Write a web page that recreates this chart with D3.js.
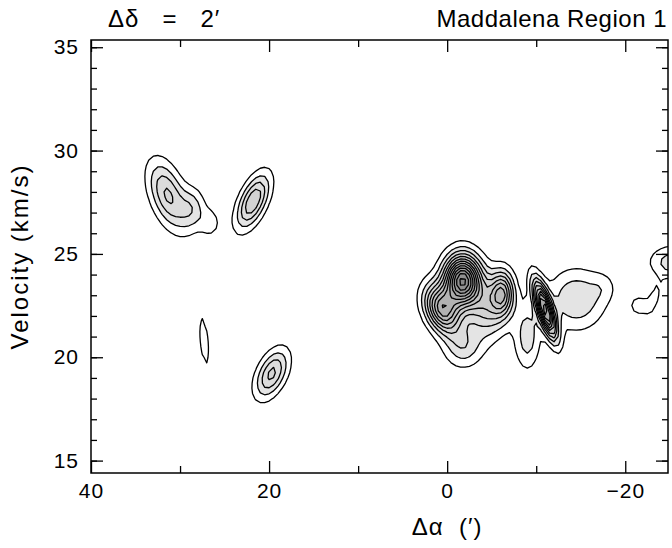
<!DOCTYPE html>
<html>
<head>
<meta charset="utf-8">
<script src="https://cdn.jsdelivr.net/npm/d3@7"></script>
<style>
body { margin: 0; background: #fff; }
text { font-family: "Liberation Sans", Arial, sans-serif; fill: #000; white-space: pre; }
</style>
</head>
<body>
<div id="chart"></div>
<script>
// emission clumps
// offset (arcmin), velocity (km/s), widths, peak (in contour steps), velocity tilt per arcmin
var clumpRA    = [31.4, 28.6, 26.6, 21.8, 19.7, 27.3,  -1.7,  0.6, -6.2, -11.0, -14.5, -17.6, -9.0, -1.8, -4.5, -25.3, -21.6, -23.3];
var clumpVel   = [27.85, 27.2, 26.5, 27.55, 19.2, 20.8, 23.7, 22.3, 23.1, 22.3,  22.8,  23.4,  21.0, 20.5, 22.4,  24.6,  22.5,  22.9];
var clumpWidRA = [1.5,  1.0,  0.8,  1.3,  1.3,  0.6,   1.4,  1.35, 0.9,  0.9,   2.2,   1.0,   1.0,  1.5,  1.5,   1.8,   0.9,   0.6];
var clumpWidV  = [1.0,  0.7,  0.5,  0.75, 0.72, 1.1,   0.85, 0.75, 0.75, 0.65,  1.0,   0.5,   1.1,  0.7,  1.0,   0.55,  0.4,   0.45];
var clumpPeak  = [4.2,  2.3,  1.5,  5.0,  4.3,  1.45,  13,   8,    6,    10,    3.0,   0.9,   2.6,  2.6,  4,     2.6,   1.5,   1.4];
var clumpTilt  = [0.35, 0,    0,   -0.4, -0.3,  1.0,   0,    0.2,  0,    0.8,   0,     0,     0,    0,    0,     0,     0,    -0.6];

var levels = [1, 2, 3, 4, 5, 6, 7, 8, 9, 10, 11, 12, 13, 14, 15];

var xTicks = [40, 20, 0, -20];
var xMinor = [30, 10, -10];
var yTicks = [15, 20, 25, 30, 35];
var yMinor = d3.range(15, 36, 1);

var width = 672, height = 548;
var margin = {top: 40, right: 4, bottom: 75, left: 91};
var innerW = width - margin.left - margin.right,
    innerH = height - margin.top - margin.bottom;

var svg = d3.select("#chart").append("svg")
    .attr("width", width)
    .attr("height", height);

var g = svg.append("g")
    .attr("transform", "translate(" + margin.left + "," + margin.top + ")");

var x = d3.scaleLinear().domain([40, -24.8]).range([0, innerW]);
var y = d3.scaleLinear().domain([14.4, 35.35]).range([innerH, 0]);

// sample the map on a grid
var gx0 = 41, gdx = 0.5, nx = 137;   // 41 .. -27
var gv0 = 13.5, gdv = 0.25, ny = 93;  // 13.5 .. 36.5
var values = new Array(nx * ny);
for (var j = 0; j < ny; j++) {
    var v = gv0 + j * gdv;
    for (var i = 0; i < nx; i++) {
        var a = gx0 - i * gdx;
        var s = 0;
        for (var k = 0; k < clumpRA.length; k++) {
            var u = (a - clumpRA[k]) / clumpWidRA[k];
            var w = (v - clumpVel[k] - clumpTilt[k] * (a - clumpRA[k])) / clumpWidV[k];
            s += clumpPeak[k] * Math.exp(-(u * u + w * w) / 2);
        }
        values[j * nx + i] = s;
    }
}

var contours = d3.contours()
    .size([nx, ny])
    .thresholds(levels)(values);

var proj = d3.geoTransform({
    point: function(px, py) {
        this.stream.point(x(gx0 - (px - 0.5) * gdx), y(gv0 + (py - 0.5) * gdv));
    }
});
var path = d3.geoPath(proj);

var shade = d3.scaleLinear().domain([1, levels.length - 1]).range(["#e4e4e4", "#787878"]);

svg.append("clipPath").attr("id", "clip")
    .append("rect").attr("width", innerW).attr("height", innerH);

g.append("g")
    .attr("clip-path", "url(#clip)")
    .selectAll("path")
    .data(contours)
    .enter()
    .append("path")
    .attr("d", path)
    .attr("fill", function(d, i) { return i == 0 ? "#fff" : shade(i); })
    .attr("stroke", "#000")
    .attr("stroke-width", 1.3)
    .attr("stroke-linejoin", "round");

// frame
g.append("rect")
    .attr("width", innerW)
    .attr("height", innerH)
    .attr("fill", "none")
    .attr("stroke", "#000")
    .attr("stroke-width", 1.5);

// ticks point inward on all four sides
function tidy(sel) {
    sel.select(".domain").remove();
    sel.selectAll("line").attr("stroke", "#000").attr("stroke-width", 1.3);
    sel.selectAll("text")
        .style("font-size", "21px")
        .style("letter-spacing", "1px")
        .style("font-family", "'Liberation Sans', Arial, sans-serif");
}
g.append("g").attr("transform", "translate(0," + innerH + ")")
    .call(d3.axisBottom(x).tickValues(xTicks).tickSize(-12).tickPadding(10).tickFormat(d3.format("d")))
    .call(tidy);
g.append("g").attr("transform", "translate(0," + innerH + ")")
    .call(d3.axisBottom(x).tickValues(xMinor).tickSize(-7).tickFormat(""))
    .call(tidy);
g.append("g")
    .call(d3.axisTop(x).tickValues(xTicks).tickSize(-12).tickFormat(""))
    .call(tidy);
g.append("g")
    .call(d3.axisTop(x).tickValues(xMinor).tickSize(-7).tickFormat(""))
    .call(tidy);
g.append("g")
    .call(d3.axisLeft(y).tickValues(yTicks).tickSize(-12).tickPadding(12))
    .call(tidy);
g.append("g")
    .call(d3.axisLeft(y).tickValues(yMinor).tickSize(-6).tickFormat(""))
    .call(tidy);
g.append("g").attr("transform", "translate(" + innerW + ",0)")
    .call(d3.axisRight(y).tickValues(yTicks).tickSize(-12).tickFormat(""))
    .call(tidy);
g.append("g").attr("transform", "translate(" + innerW + ",0)")
    .call(d3.axisRight(y).tickValues(yMinor).tickSize(-6).tickFormat(""))
    .call(tidy);

// labels
svg.append("text")
    .attr("x", 108)
    .attr("y", 27)
    .style("font-size", "24px")
    .style("letter-spacing", "1px")
    .text("Δδ   =   2′");
svg.append("text")
    .attr("x", 667)
    .attr("y", 27)
    .attr("text-anchor", "end")
    .style("font-size", "24px")
    .style("letter-spacing", "0.5px")
    .text("Maddalena Region 1");
svg.append("text")
    .attr("x", margin.left + x(0))
    .attr("y", 535)
    .attr("text-anchor", "middle")
    .style("font-size", "24px")
    .style("letter-spacing", "1px")
    .text("Δα  (′)");
svg.append("text")
    .attr("transform", "translate(28," + (margin.top + innerH / 2) + ") rotate(-90)")
    .attr("text-anchor", "middle")
    .style("font-size", "24px")
    .style("letter-spacing", "2px")
    .text("Velocity (km/s)");
</script>
</body>
</html>
